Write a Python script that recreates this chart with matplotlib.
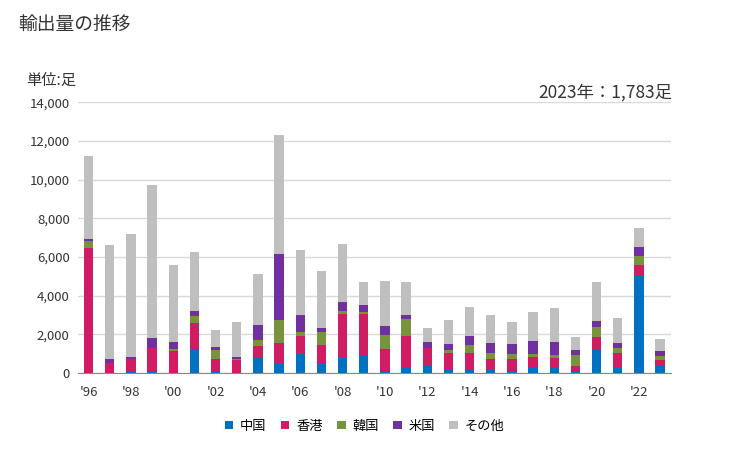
import matplotlib

matplotlib.use("Agg")
import matplotlib.pyplot as plt
import numpy as np

plt.rcParams["font.family"] = ["Noto Sans CJK JP", "DejaVu Sans"]

years = list(range(1996, 2024))
china = [0, 0, 120, 120, 0, 1230, 70, 0, 790, 535, 1000, 535, 845, 950, 120, 275, 380, 225,
         175, 225, 120, 330, 275, 120, 1210, 275, 5005, 380]
hongkong = [6440, 535, 620, 1190, 1160, 1380, 670, 690, 620, 1035, 930, 930, 2230, 2125, 1140, 1660, 930, 830,
            885, 520, 625, 520, 520, 260, 675, 780, 570, 310]
korea = [360, 0, 0, 0, 70, 360, 470, 50, 310, 1190, 210, 675, 155, 105, 725, 880, 0, 155,
         365, 310, 260, 155, 155, 570, 520, 260, 470, 210]
usa = [105, 208, 100, 520, 400, 260, 155, 100, 780, 3370, 880, 210, 465, 360, 465, 210, 310, 310,
       470, 520, 520, 675, 675, 260, 260, 260, 470, 260]
others = [4300, 5855, 6370, 7875, 3940, 3000, 880, 1810, 2640, 6165, 3320, 2900, 2950, 1140, 2330, 1660, 725, 1245,
          1505, 1400, 1090, 1455, 1715, 675, 2030, 1250, 990, 620]

series = [("中国", china, "#0070C0"), ("香港", hongkong, "#D01C62"), ("韓国", korea, "#77933C"),
          ("米国", usa, "#7030A0"), ("その他", others, "#BFBFBF")]

fig = plt.figure(figsize=(7.29, 4.5), dpi=100)
ax = fig.add_axes([0.107, 0.171, 0.813, 0.602])

x = np.arange(len(years))
bottom = np.zeros(len(years))
for name, vals, color in series:
    v = np.array(vals, dtype=float)
    ax.bar(x, v, 0.44, bottom=bottom, color=color, label=name, zorder=3)
    bottom += v

ax.set_xlim(-0.5, len(years) - 0.5)
ax.set_ylim(0, 14000)
ax.set_yticks(np.arange(0, 14001, 2000))
ax.set_yticklabels([f"{t:,}" for t in range(0, 14001, 2000)], fontsize=9.5, color="#333333")
ax.set_xticks(x[::2])
ax.set_xticklabels([f"'{y % 100:02d}" for y in years[::2]], fontsize=9.5, color="#333333")
ax.tick_params(axis="y", length=0, pad=6)
ax.tick_params(axis="x", length=0, pad=9)
ax.grid(axis="y", color="#d9d9d9", lw=1, zorder=0)
for s in ["top", "right", "left"]:
    ax.spines[s].set_visible(False)
ax.spines["bottom"].set_color("#888888")

fig.text(0.025, 0.945, "輸出量の推移", fontsize=13.5, color="#333333", va="center")
fig.text(0.036, 0.822, "単位:足", fontsize=11, color="#333333", va="center")
fig.text(0.922, 0.795, "2023年：1,783足", fontsize=12.5, color="#333333", va="center", ha="right")

fig.legend(loc="center", bbox_to_anchor=(0.5, 0.053), ncol=5, frameon=False, fontsize=9.5,
           handlelength=0.65, handleheight=0.65, handletextpad=0.5, columnspacing=1.1)

fig.savefig("out.png", dpi=100)
